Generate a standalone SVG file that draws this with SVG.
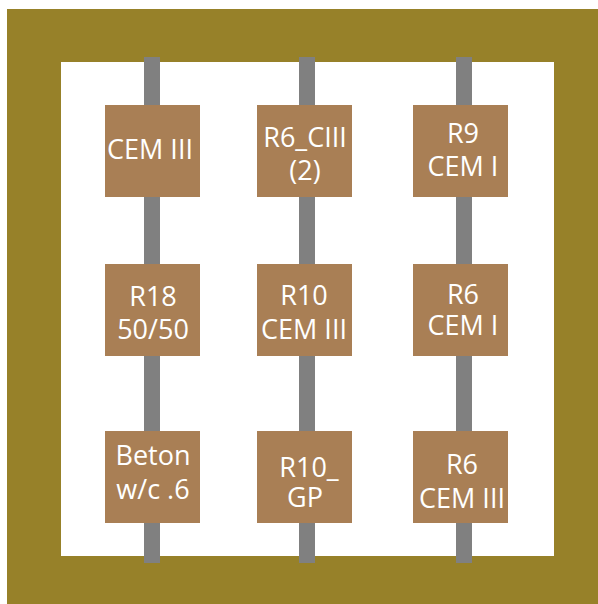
<svg xmlns="http://www.w3.org/2000/svg" width="598" height="604" viewBox="0 0 598 604">
<style>
.box{fill:#A97F55}
.bar{fill:#808080}
.t{font-family:"Open Sans","DejaVu Sans",sans-serif;font-size:27px;fill:#ffffff;text-anchor:middle}
</style>
<rect x="0" y="0" width="598" height="604" fill="#ffffff"/>
<rect id="frame" x="7" y="9" width="591" height="595" fill="#978129"/>
<rect x="61" y="62" width="493" height="494" fill="#ffffff"/>
<g id="connectors">
<rect class="bar" x="144" y="57" width="16" height="506"/>
<rect class="bar" x="299" y="57" width="16" height="506"/>
<rect class="bar" x="456" y="57" width="16" height="506"/>
</g>
<g id="n1"><rect class="box" x="105" y="105" width="95" height="92"/><text class="t" x="150" y="159">CEM III</text></g>
<g id="n2"><rect class="box" x="257" y="105" width="95" height="92"/><text class="t" x="305" y="147">R6_CIII</text><text class="t" x="305" y="180">(2)</text></g>
<g id="n3"><rect class="box" x="413" y="105" width="95" height="92"/><text class="t" x="463" y="143">R9</text><text class="t" x="463" y="176">CEM I</text></g>
<g id="n4"><rect class="box" x="105" y="264" width="95" height="92"/><text class="t" x="153" y="306">R18</text><text class="t" x="153" y="339">50/50</text></g>
<g id="n5"><rect class="box" x="257" y="264" width="95" height="92"/><text class="t" x="304" y="305">R10</text><text class="t" x="304" y="339">CEM III</text></g>
<g id="n6"><rect class="box" x="413" y="264" width="95" height="92"/><text class="t" x="463" y="304">R6</text><text class="t" x="463" y="335">CEM I</text></g>
<g id="n7"><rect class="box" x="105" y="431" width="95" height="92"/><text class="t" x="153" y="465">Beton</text><text class="t" x="153" y="499">w/c .6</text></g>
<g id="n8"><rect class="box" x="257" y="431" width="95" height="92"/><text class="t" x="309" y="477">R10_</text><text class="t" x="305" y="507">GP</text></g>
<g id="n9"><rect class="box" x="413" y="431" width="95" height="92"/><text class="t" x="462" y="474">R6</text><text class="t" x="462" y="508">CEM III</text></g>
</svg>
